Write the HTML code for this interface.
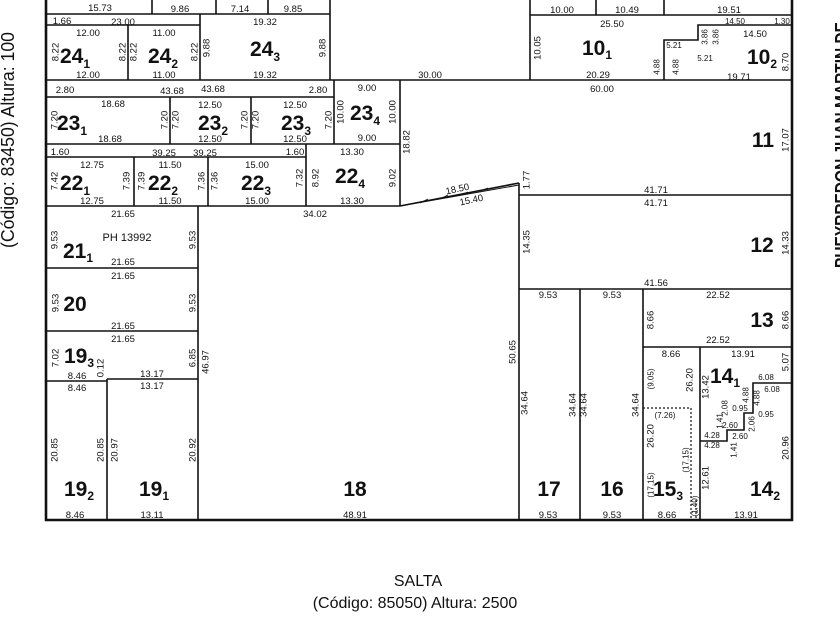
<!DOCTYPE html>
<html><head><meta charset="utf-8"><style>
html,body{margin:0;padding:0;background:#fff;}
svg{display:block;}
.d{font-family:"Liberation Sans Narrow","Liberation Sans",sans-serif;font-size:9.5px;fill:#111;text-anchor:middle;}
.s{font-size:8px;}
.b{font-family:"Liberation Sans Narrow","Liberation Sans",sans-serif;font-weight:bold;font-size:21px;fill:#111;text-anchor:middle;}
.b tspan.sub{font-size:12px;}
.r{dominant-baseline:central;}
</style></head><body>
<svg width="840" height="630" viewBox="0 0 840 630" xmlns="http://www.w3.org/2000/svg">
<g stroke="#111" stroke-width="1.6" fill="none">
<!-- outer -->
<polyline points="46,0 46,520 792,520 792,0" stroke-width="2.6"/>
<!-- top row -->
<line x1="46" y1="14" x2="330" y2="14"/>
<line x1="152" y1="0" x2="152" y2="14"/>
<line x1="216" y1="0" x2="216" y2="14"/>
<line x1="268" y1="0" x2="268" y2="14"/>
<line x1="330" y1="0" x2="330" y2="80"/>
<line x1="530" y1="15" x2="792" y2="15"/>
<line x1="530" y1="0" x2="530" y2="80"/>
<line x1="596" y1="0" x2="596" y2="15"/>
<line x1="664" y1="0" x2="664" y2="15"/>
<!-- row 24 -->
<line x1="46" y1="25" x2="200" y2="25"/>
<line x1="128" y1="25" x2="128" y2="80"/>
<line x1="200" y1="14" x2="200" y2="80"/>
<line x1="46" y1="80" x2="792" y2="80"/>
<!-- lot 10 step -->
<polyline points="664,80 664,40 698,40 698,25 792,25"/>
<!-- row 23 -->
<line x1="46" y1="97" x2="334" y2="97"/>
<line x1="170" y1="97" x2="170" y2="144"/>
<line x1="251" y1="97" x2="251" y2="144"/>
<line x1="334" y1="80" x2="334" y2="144"/>
<line x1="400" y1="80" x2="400" y2="206"/>
<line x1="46" y1="144" x2="400" y2="144"/>
<!-- row 22 -->
<line x1="46" y1="157" x2="306" y2="157"/>
<line x1="134" y1="157" x2="134" y2="206"/>
<line x1="208" y1="157" x2="208" y2="206"/>
<line x1="306" y1="144" x2="306" y2="206"/>
<line x1="46" y1="206" x2="400" y2="206"/>
<!-- diagonal -->
<line x1="400" y1="206" x2="519" y2="183"/>
<line x1="400" y1="206" x2="519" y2="185" stroke-width="1"/>
<line x1="519" y1="183" x2="519" y2="520"/>
<line x1="519" y1="195" x2="792" y2="195"/>
<!-- left column -->
<line x1="198" y1="206" x2="198" y2="520"/>
<line x1="46" y1="268" x2="198" y2="268"/>
<line x1="46" y1="331" x2="198" y2="331"/>
<line x1="46" y1="381" x2="107" y2="381"/>
<line x1="107" y1="379" x2="198" y2="379"/>
<line x1="107" y1="379" x2="107" y2="520"/>
<!-- right lower -->
<line x1="519" y1="289" x2="792" y2="289"/>
<line x1="580" y1="289" x2="580" y2="520"/>
<line x1="643" y1="289" x2="643" y2="520"/>
<line x1="643" y1="347" x2="792" y2="347"/>
<line x1="700" y1="347" x2="700" y2="520"/>
<polyline points="792,383 753,383 753,413 744,413 744,430 727,430 727,441 700,441"/>
<polyline points="643,408 691,408 691,520" stroke-dasharray="2,2" stroke-width="1.2"/>
<line x1="696" y1="500" x2="696" y2="520" stroke-dasharray="2,2" stroke-width="1.2"/>
</g>
<g stroke="#111" stroke-width="0.8">
<line x1="420" y1="203" x2="428" y2="199"/><line x1="440" y1="199" x2="448" y2="195"/><line x1="460" y1="195" x2="468" y2="192"/><line x1="480" y1="191" x2="488" y2="188"/><line x1="500" y1="187" x2="508" y2="185"/>
</g>

<!-- dims -->
<g class="d">
<text x="100" y="11">15.73</text><text x="180" y="12">9.86</text><text x="240" y="12">7.14</text><text x="293" y="12">9.85</text>
<text x="562" y="13">10.00</text><text x="627" y="13">10.49</text><text x="729" y="13">19.51</text>
<text x="62" y="24">1.66</text><text x="123" y="25">23.00</text><text x="265" y="25">19.32</text>
<text x="88" y="36">12.00</text><text x="164" y="36">11.00</text>
<text x="88" y="78">12.00</text><text x="164" y="78">11.00</text><text x="265" y="78">19.32</text>
<text x="430" y="78">30.00</text>
<text x="612" y="27">25.50</text><text x="735" y="24" class="s">14.50</text><text x="782" y="24" class="s">1.30</text><text x="755" y="37">14.50</text>
<text x="674" y="48" class="s">5.21</text><text x="705" y="61" class="s">5.21</text>
<text x="598" y="78">20.29</text><text x="739" y="80">19.71</text><text x="602" y="92">60.00</text>
<text x="65" y="93">2.80</text><text x="172" y="94">43.68</text><text x="213" y="92">43.68</text><text x="318" y="93">2.80</text><text x="367" y="91">9.00</text>
<text x="113" y="107">18.68</text><text x="210" y="108">12.50</text><text x="295" y="108">12.50</text>
<text x="110" y="142">18.68</text><text x="210" y="142">12.50</text><text x="295" y="142">12.50</text><text x="367" y="141">9.00</text>
<text x="60" y="155">1.60</text><text x="164" y="156">39.25</text><text x="205" y="156">39.25</text><text x="295" y="155">1.60</text><text x="352" y="155">13.30</text>
<text x="92" y="168">12.75</text><text x="170" y="168">11.50</text><text x="257" y="168">15.00</text>
<text x="92" y="204">12.75</text><text x="170" y="204">11.50</text><text x="257" y="204">15.00</text><text x="352" y="204">13.30</text>
<text x="315" y="217">34.02</text>
<text x="458" y="192" transform="rotate(-12 458 192)">18.50</text><text x="472" y="203" transform="rotate(-12 472 203)">15.40</text>
<text x="656" y="193">41.71</text><text x="656" y="206">41.71</text><text x="656" y="286">41.56</text>
<text x="123" y="217">21.65</text><text x="127" y="241" style="font-size:11px">PH 13992</text><text x="123" y="265">21.65</text>
<text x="123" y="279">21.65</text><text x="123" y="329">21.65</text><text x="123" y="342">21.65</text>
<text x="77" y="379">8.46</text><text x="152" y="377">13.17</text><text x="77" y="391">8.46</text><text x="152" y="389">13.17</text>
<text x="75" y="518">8.46</text><text x="152" y="518">13.11</text><text x="355" y="518">48.91</text>
<text x="548" y="298">9.53</text><text x="612" y="298">9.53</text><text x="548" y="518">9.53</text><text x="612" y="518">9.53</text>
<text x="718" y="298">22.52</text><text x="718" y="343">22.52</text>
<text x="671" y="357">8.66</text><text x="743" y="357">13.91</text><text x="665" y="418" class="s">(7.26)</text><text x="667" y="518">8.66</text><text x="746" y="518">13.91</text>
<text x="766" y="380" class="s">6.08</text><text x="772" y="392" class="s">6.08</text><text x="740" y="411" class="s">0.95</text><text x="766" y="417" class="s">0.95</text>
<text x="730" y="428" class="s">2.60</text><text x="740" y="439" class="s">2.60</text><text x="712" y="438" class="s">4.28</text><text x="712" y="448" class="s">4.28</text>
</g>
<!-- rotated dims -->
<g class="d r">
<text transform="translate(56,52) rotate(-90)">8.22</text><text transform="translate(123,52) rotate(-90)">8.22</text><text transform="translate(134,52) rotate(-90)">8.22</text><text transform="translate(195,52) rotate(-90)">8.22</text>
<text transform="translate(207,48) rotate(-90)">9.88</text><text transform="translate(323,48) rotate(-90)">9.88</text>
<text transform="translate(538,48) rotate(-90)">10.05</text><text transform="translate(705,37) rotate(-90)" class="s">3.86</text><text transform="translate(716,37) rotate(-90)" class="s">3.86</text>
<text transform="translate(657,67) rotate(-90)" class="s">4.88</text><text transform="translate(676,67) rotate(-90)" class="s">4.88</text><text transform="translate(786,62) rotate(-90)">8.70</text>
<text transform="translate(55,120) rotate(-90)">7.20</text><text transform="translate(165,120) rotate(-90)">7.20</text><text transform="translate(176,120) rotate(-90)">7.20</text>
<text transform="translate(245,120) rotate(-90)">7.20</text><text transform="translate(256,120) rotate(-90)">7.20</text><text transform="translate(329,120) rotate(-90)">7.20</text>
<text transform="translate(341,112) rotate(-90)">10.00</text><text transform="translate(393,112) rotate(-90)">10.00</text><text transform="translate(407,142) rotate(-90)">18.82</text>
<text transform="translate(55,181) rotate(-90)">7.42</text><text transform="translate(127,181) rotate(-90)">7.39</text><text transform="translate(142,181) rotate(-90)">7.39</text>
<text transform="translate(202,181) rotate(-90)">7.36</text><text transform="translate(215,181) rotate(-90)">7.36</text><text transform="translate(300,178) rotate(-90)">7.32</text>
<text transform="translate(316,178) rotate(-90)">8.92</text><text transform="translate(393,178) rotate(-90)">9.02</text>
<text transform="translate(527,180) rotate(-90)">1.77</text><text transform="translate(786,140) rotate(-90)">17.07</text>
<text transform="translate(55,240) rotate(-90)">9.53</text><text transform="translate(193,240) rotate(-90)">9.53</text>
<text transform="translate(56,303) rotate(-90)">9.53</text><text transform="translate(193,303) rotate(-90)">9.53</text>
<text transform="translate(56,358) rotate(-90)">7.02</text><text transform="translate(101,368) rotate(-90)">0.12</text><text transform="translate(193,358) rotate(-90)">6.85</text><text transform="translate(206,362) rotate(-90)">46.97</text>
<text transform="translate(55,450) rotate(-90)">20.85</text><text transform="translate(101,450) rotate(-90)">20.85</text><text transform="translate(115,450) rotate(-90)">20.97</text><text transform="translate(193,450) rotate(-90)">20.92</text>
<text transform="translate(527,242) rotate(-90)">14.35</text><text transform="translate(786,243) rotate(-90)">14.33</text>
<text transform="translate(513,352) rotate(-90)">50.65</text><text transform="translate(525,403) rotate(-90)">34.64</text>
<text transform="translate(573,405) rotate(-90)">34.64</text><text transform="translate(584,405) rotate(-90)">34.64</text><text transform="translate(636,405) rotate(-90)">34.64</text>
<text transform="translate(651,320) rotate(-90)">8.66</text><text transform="translate(786,320) rotate(-90)">8.66</text>
<text transform="translate(651,379) rotate(-90)" class="s">(9.05)</text><text transform="translate(690,380) rotate(-90)">26.20</text>
<text transform="translate(651,436) rotate(-90)">26.20</text><text transform="translate(686,460) rotate(-90)" class="s">(17.15)</text><text transform="translate(651,485) rotate(-90)" class="s">(17.15)</text>
<text transform="translate(695,506) rotate(-90)" class="s">(1.40)</text>
<text transform="translate(786,362) rotate(-90)">5.07</text><text transform="translate(706,387) rotate(-90)">13.42</text>
<text transform="translate(746,395) rotate(-90)" class="s">4.88</text><text transform="translate(757,398) rotate(-90)" class="s">4.88</text>
<text transform="translate(725,408) rotate(-90)" class="s">2.08</text><text transform="translate(720,421) rotate(-90)" class="s">1.41</text>
<text transform="translate(752,424) rotate(-90)" class="s">2.06</text><text transform="translate(734,450) rotate(-90)" class="s">1.41</text>
<text transform="translate(786,448) rotate(-90)">20.96</text><text transform="translate(706,478) rotate(-90)">12.61</text>
</g>
<!-- lot numbers -->
<g class="b">
<text x="75" y="63">24<tspan class="sub" dy="5">1</tspan></text>
<text x="163" y="63">24<tspan class="sub" dy="5">2</tspan></text>
<text x="265" y="56">24<tspan class="sub" dy="5">3</tspan></text>
<text x="597" y="55">10<tspan class="sub" dy="4">1</tspan></text>
<text x="762" y="64">10<tspan class="sub" dy="4">2</tspan></text>
<text x="72" y="130">23<tspan class="sub" dy="5">1</tspan></text>
<text x="213" y="130">23<tspan class="sub" dy="5">2</tspan></text>
<text x="296" y="130">23<tspan class="sub" dy="5">3</tspan></text>
<text x="365" y="120">23<tspan class="sub" dy="5">4</tspan></text>
<text x="75" y="190">22<tspan class="sub" dy="5">1</tspan></text>
<text x="163" y="190">22<tspan class="sub" dy="5">2</tspan></text>
<text x="256" y="190">22<tspan class="sub" dy="5">3</tspan></text>
<text x="350" y="183">22<tspan class="sub" dy="5">4</tspan></text>
<text x="763" y="147">11</text>
<text x="762" y="252">12</text>
<text x="78" y="258">21<tspan class="sub" dy="4">1</tspan></text>
<text x="75" y="311">20</text>
<text x="79" y="363">19<tspan class="sub" dy="4">3</tspan></text>
<text x="79" y="496">19<tspan class="sub" dy="4">2</tspan></text>
<text x="154" y="496">19<tspan class="sub" dy="4">1</tspan></text>
<text x="355" y="496">18</text>
<text x="549" y="496">17</text>
<text x="612" y="496">16</text>
<text x="762" y="327">13</text>
<text x="668" y="496">15<tspan class="sub" dy="4">3</tspan></text>
<text x="725" y="383">14<tspan class="sub" dy="4">1</tspan></text>
<text x="765" y="496">14<tspan class="sub" dy="4">2</tspan></text>
</g>
<!-- street labels -->
<g font-family="'Liberation Sans Narrow','Liberation Sans',sans-serif" fill="#111">
<text x="418" y="586" text-anchor="middle" font-size="16">SALTA</text>
<text x="415" y="608" text-anchor="middle" font-size="16">(Código: 85050) Altura: 2500</text>
<text transform="translate(14,140) rotate(-90)" text-anchor="middle" font-size="18" textLength="216" lengthAdjust="spacingAndGlyphs">(Código: 83450) Altura: 100</text>
<text transform="translate(848,145) rotate(-90)" text-anchor="middle" font-size="18" font-weight="bold" textLength="246" lengthAdjust="spacingAndGlyphs">PUEYRREDON JUAN MARTIN DE</text>
</g>
</svg>
</body></html>
